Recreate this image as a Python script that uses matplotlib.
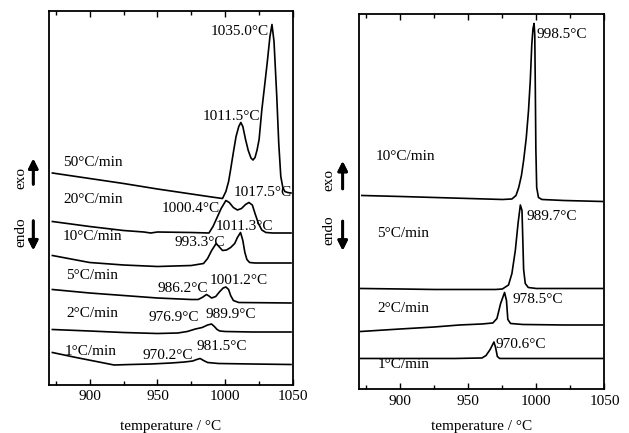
import matplotlib.pyplot as plt
from matplotlib.ticker import MultipleLocator

plt.rcParams['font.family'] = ['Liberation Serif', 'DejaVu Serif']
plt.rcParams['font.size'] = 11

# ---- heating runs (left panel), temperature in C, signal in a.u. (stacked) ----
t50 = [872.5, 900, 925, 950, 975, 990, 998, 1000.5, 1002.5, 1004, 1006, 1008, 1010, 1011.5, 1013,
       1015, 1017, 1019, 1020.5, 1022, 1023.5, 1025, 1027, 1029, 1031, 1033, 1034.5, 1036, 1038,
       1039.5, 1041, 1042.5, 1044, 1046, 1048.5]
s50 = [211.5, 206, 201, 195.5, 190.5, 187.5, 186, 193, 203, 215, 232, 248, 258, 262, 258,
       245, 234, 226.5, 224.5, 227, 234.5, 245, 274.5, 298, 322, 348, 360, 343, 289,
       241, 208, 197, 193, 192, 191.5]

t20 = [872.5, 900, 925, 940, 945, 950, 975, 988, 991, 994, 997, 1000.5, 1003, 1006, 1009, 1012,
       1015, 1017.5, 1020, 1022, 1024.5, 1027, 1030, 1035, 1048.5]
s20 = [163, 158, 154, 152.5, 151.5, 152.5, 152, 151.5, 158, 167, 176, 184, 182, 177, 174.5, 176,
       180, 182, 179.5, 171, 161, 154.5, 152, 151.5, 151.5]

t10 = [872.5, 900, 925, 950, 975, 984, 987, 990, 993.3, 996, 998, 1001, 1004, 1007, 1009, 1011.3,
       1013, 1014.5, 1016, 1018, 1022, 1035, 1048.5]
s10 = [129, 122, 119.5, 118, 119, 121, 126, 134, 141, 137, 134, 134.5, 137, 141, 147, 152,
       144, 132, 125, 122, 121.5, 121.5, 121.5]

t5 = [872.5, 900, 925, 950, 975, 980, 983, 986.2, 988, 990, 993, 996, 998.5, 1000.5, 1002.5,
      1004, 1006, 1010, 1048.5]
s5 = [95, 91.5, 89, 86.5, 85, 85, 87, 90, 88.5, 86.5, 88, 93, 96.5, 97.5, 95,
      89, 84, 82, 81.5]

t2 = [872.5, 900, 925, 950, 965, 972, 978, 983, 987, 989.9, 992, 994, 996, 1000, 1020, 1048.5]
s2 = [55, 53.5, 52, 51, 51.5, 53, 55.5, 57, 59.5, 60.5, 58, 55, 53.5, 53, 52.5, 52.5]

t1 = [872.5, 890, 905, 918, 930, 945, 960, 970, 976, 979, 981.5, 984, 987, 995, 1020, 1048.5]
s1 = [32, 27, 23, 19.5, 20, 20.5, 21.5, 22.5, 23.5, 25, 26, 24, 22, 21, 20.5, 20]

heat_rates = ['50', '20', '10', '5', '2', '1']
heat_peaks = ['1035.0', '1011.5', '1017.5', '1000.4', '1011.3', '993.3',
              '1001.2', '986.2', '989.9', '976.9', '981.5', '970.2']

# ---- cooling runs (right panel) ----
tc10 = [871.7, 900, 925, 950, 975, 982, 985, 987, 989, 990.6, 992.5, 994.2, 995.5, 996.6, 997.5,
        998.3, 998.8, 999.2, 999.6, 1000.2, 1001.5, 1004, 1020, 1048.5]
sc10 = [194, 193, 192, 191, 190, 190.5, 194, 202, 214, 229, 251, 279, 309, 345, 361,
        366, 354, 300, 240, 202, 192, 190, 189, 188]

tc5 = [871, 900, 925, 950, 970, 975, 979.5, 982, 984.5, 986.5, 988.2, 989.4, 990, 990.6, 991.8,
       994, 1000, 1020, 1048.5]
sc5 = [101, 100.5, 100, 100, 100, 100.5, 104.5, 116, 139, 166, 184.5, 179, 150, 120, 106,
       102, 101, 101, 101]

tc2 = [871, 900, 925, 943.5, 960, 968, 971, 973.7, 976.6, 978, 979, 981, 990, 1020, 1048.5]
sc2 = [58, 60.5, 62.5, 64.5, 65.5, 66.5, 71, 86, 97, 89, 70, 66, 65, 64.5, 64.5]

tc1 = [871, 900, 940, 960, 963, 966, 968.8, 970, 971.3, 973, 1000, 1048.5]
sc1 = [31, 31, 31, 31.5, 34, 40, 47.5, 42, 33, 31, 31, 31]

cool_rates = ['10', '5', '2', '1']
cool_peaks = ['998.5', '989.7', '978.5', '970.6']

# ---- Plotting ----
fig = plt.figure(figsize=(6.29, 4.33), dpi=100)
ax1 = fig.add_axes([0.0779, 0.1120, 0.3879, 0.8626])
ax2 = fig.add_axes([0.5715, 0.1005, 0.3895, 0.8672])

for t, s in [(t50, s50), (t20, s20), (t10, s10), (t5, s5), (t2, s2), (t1, s1)]:
    ax1.plot(t, s, color='black', lw=1.2)
for t, s in [(tc10, sc10), (tc5, sc5), (tc2, sc2), (tc1, sc1)]:
    ax2.plot(t, s, color='black', lw=1.2)

ax1.set_ylim(0, 373.5)
ax2.set_ylim(0, 375.5)

for ax, pad in [(ax1, 12), (ax2, 8.5)]:
    ax.set_xlim(870, 1050)
    ax.xaxis.set_major_locator(MultipleLocator(50))
    ax.xaxis.set_minor_locator(MultipleLocator(25))
    ax.tick_params(axis='x', which='both', direction='in', top=True, width=1)
    ax.tick_params(axis='x', which='major', length=4, pad=4)
    ax.tick_params(axis='x', which='minor', length=3)
    ax.set_yticks([])
    ax.set_xlabel('temperature / °C', labelpad=pad)
    for sp in ax.spines.values():
        sp.set_linewidth(1.3)

# rate labels
heat_label_pos = [(880.4, 222.5), (880.4, 185.5), (880.4, 147.8),
                  (882.6, 109.5), (882.6, 71.5), (881.9, 32.8)]
for r, (x, y) in zip(heat_rates, heat_label_pos):
    ax1.text(x, y, r + '°C/min', ha='left', va='center')

heat_peak_pos = [(989.6, 352.8), (983.1, 267.8), (1006.5, 192.2), (953.4, 176.2),
                 (993.3, 158.5), (962.3, 142.2), (988.9, 104.5), (949.8, 96.2),
                 (985.3, 70.2), (943.7, 67.2), (978.8, 37.8), (938.9, 29.5)]
for p, (x, y) in zip(heat_peaks, heat_peak_pos):
    ax1.text(x, y, p + '°C', ha='left', va='center')

cool_label_pos = [(881.9, 232.8), (883.1, 156.2), (883.1, 81.2), (883.1, 24.5)]
for r, (x, y) in zip(cool_rates, cool_label_pos):
    ax2.text(x, y, r + '°C/min', ha='left', va='center')

cool_peak_pos = [(1000.2, 355.2), (993.0, 172.8), (982.1, 89.5), (970.1, 44.5)]
for p, (x, y) in zip(cool_peaks, cool_peak_pos):
    ax2.text(x, y, p + '°C', ha='left', va='center')

# exo / endo markers
arrow = dict(arrowstyle='-|>', lw=2, mutation_scale=14, color='black')
for tx, axx, exo_y, endo_y, a_up, a_dn in [
        (0.0334, 0.0529, 0.590, 0.464, (0.568, 0.640), (0.4965, 0.4157)),
        (0.5235, 0.5448, 0.5843, 0.4688, (0.5573, 0.6344), (0.4958, 0.415))]:
    fig.text(tx, exo_y, 'exo', rotation=90, ha='center', va='center')
    fig.text(tx, endo_y, 'endo', rotation=90, ha='center', va='center')
    fig.add_artist(plt.annotate('', xy=(axx, a_up[1]), xytext=(axx, a_up[0]),
                                xycoords='figure fraction', arrowprops=arrow))
    fig.add_artist(plt.annotate('', xy=(axx, a_dn[1]), xytext=(axx, a_dn[0]),
                                xycoords='figure fraction', arrowprops=arrow))

plt.savefig('out.png', dpi=100)
